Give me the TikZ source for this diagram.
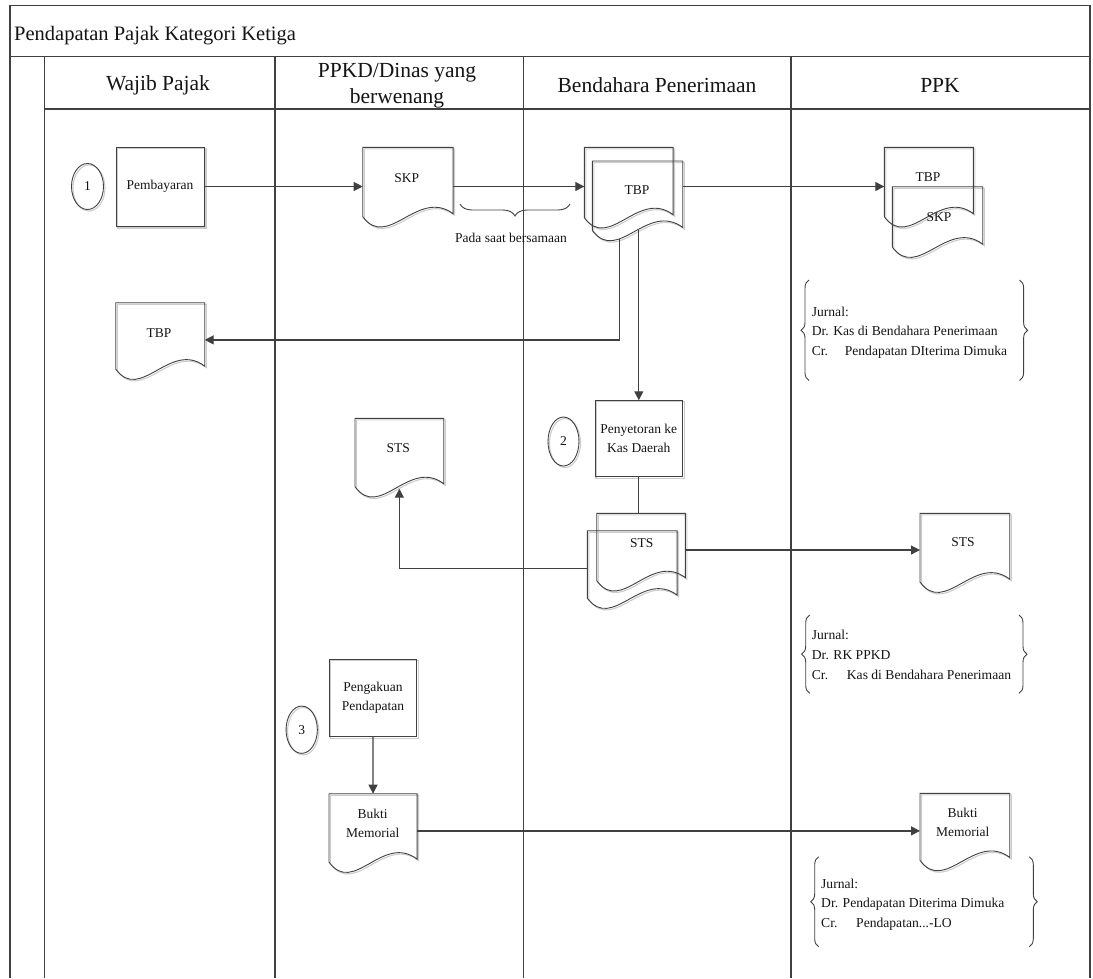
\documentclass[tikz,border=0pt]{standalone}
\usepackage{fontspec}
\setmainfont{Liberation Serif}
\usetikzlibrary{arrows.meta,calc,decorations.pathreplacing,shapes.geometric}
\pgfdeclarelayer{bg}
\pgfsetlayers{bg,main}
\newcommand{\mytitlefont}{\fontsize{20.5}{24}\selectfont}
\newcommand{\mylanefont}{\fontsize{21.5}{26}\selectfont}
\newcommand{\myshapefont}{\fontsize{13.5}{19}\selectfont}
\newcommand{\myjfont}{\fontsize{13.6}{19.8}\selectfont}
\tikzset{
  frame/.style={draw=black!75, line width=1.4pt},
  shp/.style={draw=black!75, line width=0.9pt},
  shd/.style={draw=black!20, line width=1.1pt},
  conn/.style={draw=black!75, line width=1.2pt},
  arr/.style={conn, -{Triangle[length=9pt,width=9pt]}},
  docnode/.style={draw=none, inner sep=0pt, anchor=north west},
  shapetext/.style={inner sep=0pt, font=\myshapefont, align=center, text=black!92},
  boxnode/.style={shp, inner sep=0pt, font=\myshapefont, align=center, text=black!92},
  numnode/.style={shp, ellipse, inner sep=0pt, font=\myshapefont, text=black!92},
  lanehead/.style={font=\mylanefont, align=center, inner sep=0pt, text=black!92},
  jtext/.style={font=\myjfont, align=left, anchor=north west, inner sep=0pt, text=black!92},
  brc/.style={shp, decorate, decoration={brace, amplitude=#1}},
}
\newcommand{\docoutline}[2][]{%
  \draw[shp,#1] (#2.north west) -- (#2.north east) -- ($(#2.south east)+(0,-3)$)
    .. controls ($(#2.south west)!0.61!(#2.south east)+(0,-29)$) and ($(#2.south west)!0.28!(#2.south east)+(0,34)$) .. (#2.south west) -- cycle;}
\newcommand{\docshadow}[1]{\docoutline[shd, transform canvas={shift={(1.5pt,-1.5pt)}}]{#1}}
\newcommand{\boxshadow}[1]{\draw[shd, transform canvas={shift={(1.5pt,-1.5pt)}}] (#1.north west) rectangle (#1.south east);}
\begin{document}
\begin{tikzpicture}[x=1pt,y=-1pt]
\useasboundingbox (0,0) rectangle (1093,978);

% frame and lanes
\draw[frame] (10,978) -- (10,5.7) -- (1090,5.7) -- (1090,978);
\draw[frame] (10,56.7) -- (1090,56.7);
\draw[frame] (44.5,109) -- (1090,109);
\foreach \xx in {44.5,275,523.5,791} \draw[frame] (\xx,56.7) -- (\xx,978);

\node[anchor=base west, inner sep=0pt, font=\mytitlefont, text=black!92] (title) at (14,40) {Pendapatan Pajak Kategori Ketiga};
\node[lanehead] (h1) at (158,85) {Wajib Pajak};
\node[lanehead] (h2) at (397,86) {PPKD/Dinas yang\\berwenang};
\node[lanehead] (h3) at (657,85) {Bendahara Penerimaan};
\node[lanehead] (h4) at (940,85) {PPK};

% step 1
\node[numnode, minimum width=32, minimum height=46] (c1) at (87.5,186.5) {1};
\node[boxnode, minimum width=88, minimum height=79] (pemb) at (160,186.5) {Pembayaran};
\node[docnode, minimum width=90, minimum height=69] (skp) at (362.7,147.3) {};
\node[shapetext] (skpT) at (406.7,177.7) {SKP};
\node[docnode, minimum width=88.4, minimum height=70] (tbpA) at (584.3,147.3) {};
\node[docnode, minimum width=90, minimum height=69] (tbpB) at (592.3,161) {};
\node[shapetext] (tbpT) at (637,190) {TBP};
\node[docnode, minimum width=88.7, minimum height=69] (ppkT) at (884.3,147.3) {};
\node[shapetext] (ppkTT) at (928,176.7) {TBP};
\node[docnode, minimum width=90, minimum height=60] (ppkS) at (892.3,186.7) {};
\node[shapetext] (ppkST) at (939,217) {SKP};
\node[docnode, minimum width=88.6, minimum height=66] (tbpW) at (115.7,302.7) {};
\node[shapetext] (tbpWT) at (159,333) {TBP};

% step 2
\node[numnode, minimum width=31, minimum height=49] (c2) at (563.5,441.5) {2};
\node[boxnode, minimum width=87.7, minimum height=76] (peny) at (638.8,438.7) {Penyetoran ke\\Kas Daerah};
\node[docnode, minimum width=88.3, minimum height=68] (stsP) at (355,418.3) {};
\node[shapetext] (stsPT) at (398.3,448.3) {STS};
\node[docnode, minimum width=88.3, minimum height=67] (stsA) at (596.7,513.3) {};
\node[docnode, minimum width=89.4, minimum height=67] (stsB) at (587.3,530.7) {};
\node[shapetext] (stsT) at (641.7,542.7) {STS};
\node[docnode, minimum width=89.3, minimum height=68.4] (stsK) at (920,513.3) {};
\node[shapetext] (stsKT) at (963,541.7) {STS};

% step 3
\node[numnode, minimum width=31.3, minimum height=47.3] (c3) at (301.7,729.7) {3};
\node[boxnode, minimum width=87.7, minimum height=77.7] (peng) at (372.9,697.9) {Pengakuan\\Pendapatan};
\node[docnode, minimum width=87.7, minimum height=68] (bmP) at (329,793.7) {};
\node[shapetext] (bmPT) at (372.7,823.3) {Bukti\\Memorial};
\node[docnode, minimum width=89.3, minimum height=66.7] (bmK) at (920,793.3) {};
\node[shapetext] (bmKT) at (962.7,822.2) {Bukti\\Memorial};

% document outlines
\foreach \d in {skp,tbpA,tbpB,ppkT,ppkS,tbpW,stsP,stsA,stsB,stsK,bmP,bmK} {\docoutline{\d}}

% shadows
\begin{pgfonlayer}{bg}
\foreach \d in {skp,tbpA,tbpB,ppkT,ppkS,tbpW,stsP,stsA,stsB,stsK,bmP,bmK} {\docshadow{\d}}
\boxshadow{pemb}
\boxshadow{peny}
\boxshadow{peng}
\draw[shd, transform canvas={shift={(1.5pt,-1.5pt)}}] (c1) ellipse [x radius=16, y radius=23];
\draw[shd, transform canvas={shift={(1.5pt,-1.5pt)}}] (c2) ellipse [x radius=15.5, y radius=24.5];
\draw[shd, transform canvas={shift={(1.5pt,-1.5pt)}}] (c3) ellipse [x radius=15.65, y radius=23.65];
\end{pgfonlayer}

% connectors
\draw[arr] (pemb.east) -- (pemb.east -| skp.west);
\draw[arr] (pemb.east -| skp.east) -- (pemb.east -| tbpA.west);
\draw[arr] (pemb.east -| tbpB.east) -- (pemb.east -| ppkT.west);
\coordinate (tbpOut) at ($(tbpB.south west)+(27,9)$);
\coordinate (tbpWin) at ($(tbpW.east)+(0,4)$);
\draw[arr] (tbpOut) |- (tbpWin);
\draw[arr] (peny.north |- tbpB.south) -- (peny.north);
\draw[conn] (peny.south) -- (peny.south |- stsA.north);
\coordinate (stsPin) at ($(stsP.south)+(0,2)$);
\coordinate (stsBout) at ($(stsB.west)+(0,4)$);
\draw[arr] (stsBout) -| (stsPin);
\coordinate (stsAout) at ($(stsA.east)+(0,3)$);
\draw[arr] (stsAout) -- (stsAout -| stsK.west);
\draw[arr] (peng.south) -- (bmP.north);
\coordinate (bmPout) at ($(bmP.east)+(0,3)$);
\draw[arr] (bmPout) -- (bmPout -| bmK.west);

% simultaneous brace
\draw[brc=12pt] (570,204) -- (460,204);
\node[shapetext] (bersama) at (511,238.3) {Pada saat bersamaan};

% journals
\node[jtext] (j1) at (811.6,306.5) {Jurnal:\\Dr. Kas di Bendahara Penerimaan\\\makebox[33pt][l]{Cr.}Pendapatan DIterima Dimuka};
\draw[brc=8pt] (809,380.5) -- (809,280);
\draw[brc=8pt] (1019.6,280) -- (1019.6,380.5);

\node[jtext] (j2) at (811.7,630) {Jurnal:\\Dr. RK PPKD\\\makebox[35pt][l]{Cr.}Kas di Bendahara Penerimaan};
\draw[brc=8pt] (809.7,693.3) -- (809.7,615);
\draw[brc=8pt] (1019,615) -- (1019,693.3);

\node[jtext] (j3) at (821,878.5) {Jurnal:\\Dr. Pendapatan Diterima Dimuka\\\makebox[35pt][l]{Cr.}Pendapatan...-LO};
\draw[brc=8pt] (818.7,946.7) -- (818.7,856.7);
\draw[brc=8pt] (1029.3,856.7) -- (1029.3,946.7);
\end{tikzpicture}
\end{document}
